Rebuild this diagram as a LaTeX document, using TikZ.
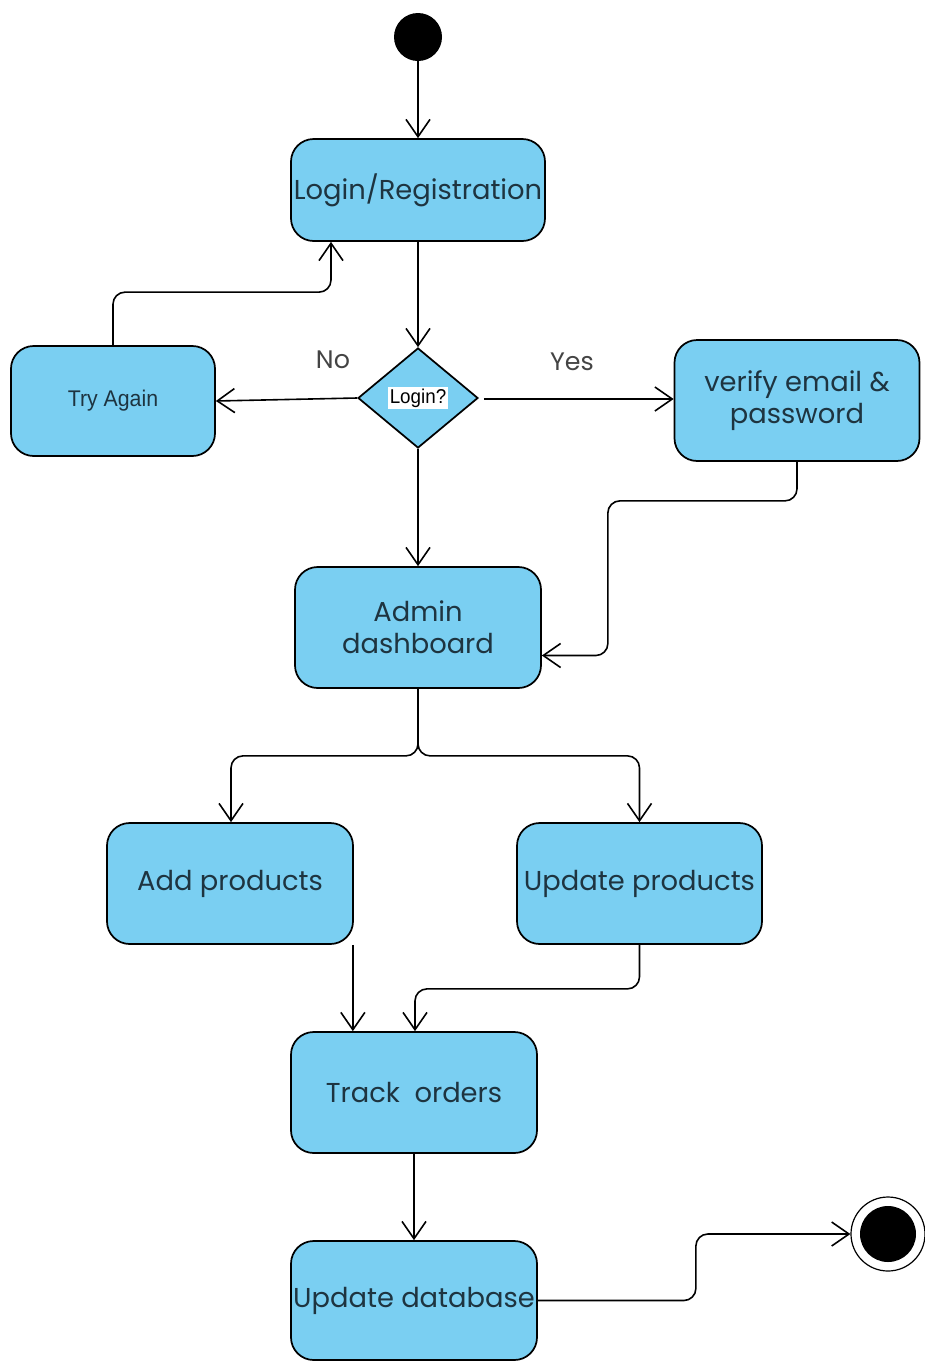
\documentclass[tikz,border=0pt]{standalone}
\usepackage{fontspec}
\setmainfont{Poppins}
\newfontfamily\arialish[FakeStretch=0.94]{Liberation Sans}
\usetikzlibrary{arrows.meta,shapes.geometric,calc}
\definecolor{boxfill}{HTML}{7ACFF2}
\definecolor{boxtext}{HTML}{1E3440}
\definecolor{labgray}{HTML}{444444}
\tikzset{
  act/.style={draw=black, line width=1.3pt, fill=boxfill, rounded corners=17pt,
    inner sep=0pt, align=center, text=boxtext, font=\fontsize{20.5pt}{24pt}\selectfont},
  arr/.style={draw=black, line width=1.2pt, rounded corners=9pt,
    -{Straight Barb[length=13pt,width=18pt,line width=1.2pt]}},
  lab/.style={text=labgray, font=\fontsize{19pt}{22pt}\selectfont},
}
\begin{document}
\begin{tikzpicture}[x=0.75pt,y=-0.75pt]
\useasboundingbox (0,0) rectangle (925,1361);
% start
\node[circle, fill=black, minimum size=36pt, inner sep=0pt] (start) at (418,37) {};
% activities
\node[act, minimum width=190.5pt, minimum height=76.5pt] (login) at (418,190) {Login/Registration};
\node[act, minimum width=153pt, minimum height=82.5pt, font=\arialish\fontsize{17pt}{20pt}\selectfont] (try) at (113,401) {Try Again};
\node[act, minimum width=183.75pt, minimum height=90.75pt] (verify) at (797,400.5) {verify email \&\\password};
\node[act, minimum width=184.5pt, minimum height=90.75pt] (admin) at (418,627.5) {Admin\\dashboard};
\node[act, minimum width=184.5pt, minimum height=90.75pt] (add) at (230,883.5) {Add products};
\node[act, minimum width=183.75pt, minimum height=90.75pt] (update) at (639.5,883.5) {Update products};
\node[act, minimum width=184.5pt, minimum height=90.75pt] (track) at (414,1092.5) {Track\ \ orders};
\node[act, minimum width=184.5pt, minimum height=89.25pt] (updb) at (414,1300.5) {Update database};
% decision
\node[diamond, draw=black, line width=1.3pt, fill=boxfill, aspect=1.2,
      minimum width=90pt, minimum height=75pt, inner sep=0pt] (dia) at (418,398) {};
\node[fill=white, inner sep=1pt, font=\arialish\fontsize{15pt}{17pt}\selectfont] (dialab) at (dia.center) {Login?};
% end
\node[circle, draw=black, line width=0.9pt, fill=white, minimum size=55.5pt, inner sep=0pt] (end) at (888,1234) {};
\node[circle, fill=black, minimum size=42pt, inner sep=0pt] (endin) at (end.center) {};
% labels
\node[lab] (no) at (333,360) {No};
\node[lab] (yes) at (572,362) {Yes};
% connectors
\draw[arr] (start) -- (login.north);
\draw[arr] (login.south) -- (dia.north);
\draw[arr] (dia.west) -- (try.east);
\draw[arr] (try.north) -- ++(0,-53) -| ($(login.south)+(-87,0)$);
\coordinate (y0) at ($(dia.east)+(5,1)$);
\draw[arr] (y0) -- (y0 -| verify.west);
\draw[arr] (dia.south) -- (admin.north);
\draw[arr] (verify.south) -- ++(0,39) -| ($(admin.east)+(66,28)$) -- ($(admin.east)+(0,28)$);
\draw[arr] (admin.south) -- ++(0,67) -| ($(add.north)+(1,0)$);
\draw[arr] (admin.south) -- ++(0,67) -| (update.north);
\coordinate (a1) at ($(add.south east)+(-1,0)$);
\draw[arr] (a1) -- (a1 |- track.north);
\draw[arr] (update.south) -- ++(0,44) -| ($(track.north)+(1,0)$);
\draw[arr] (track.south) -- (updb.north);
\draw[arr] (updb.east) -- ++(158,0) |- (end.west);
\end{tikzpicture}
\end{document}
